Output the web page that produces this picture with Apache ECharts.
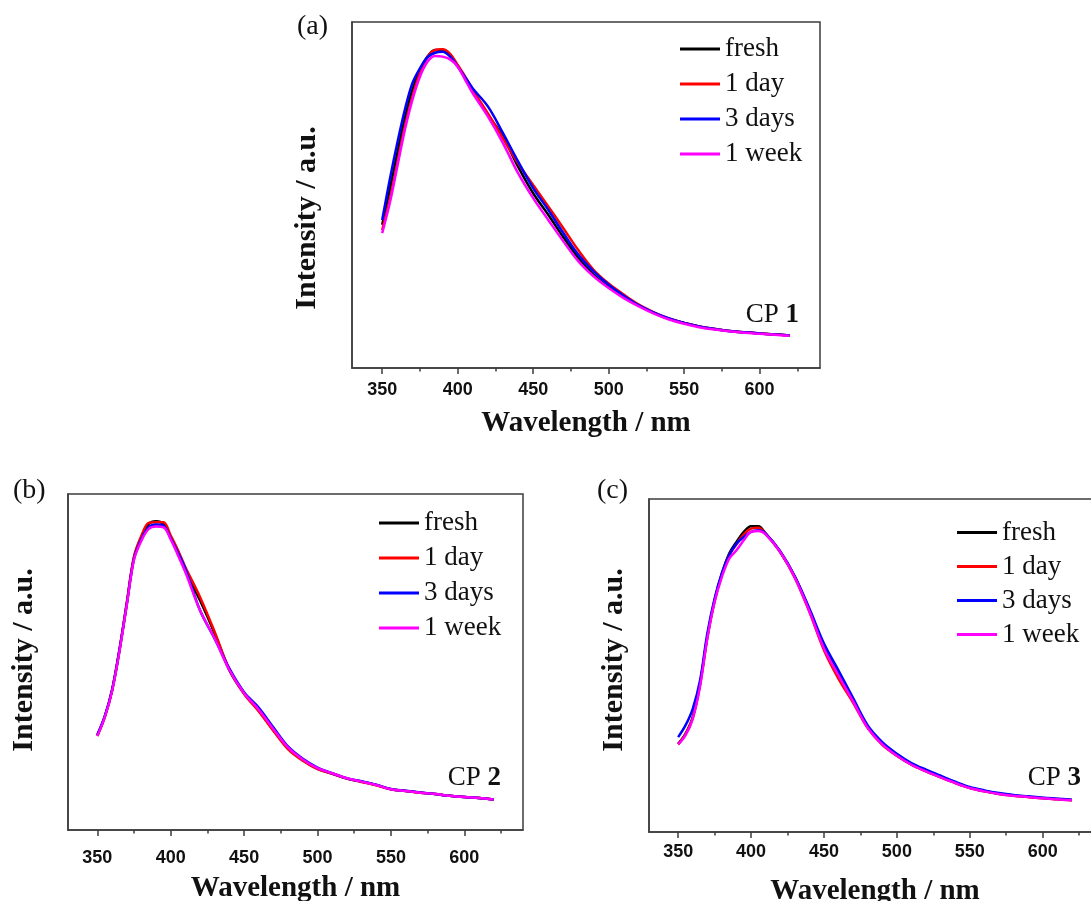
<!DOCTYPE html>
<html>
<head>
<meta charset="utf-8">
<script src="https://cdn.jsdelivr.net/npm/echarts@6/dist/echarts.min.js"></script>
<style>
html,body{margin:0;padding:0;background:#ffffff;}
#chart{width:1091px;height:901px;}
</style>
</head>
<body>
<div id="chart"></div>
<script>
// ---------------- data ----------------
const wavelengths = [350,355,360,365,370,375,380,385,390,395,400,405,410,420,430,440,450,460,470,480,490,500,510,520,530,540,550,560,570,580,590,600,610,620];
const seriesNames = ['fresh', '1 day', '3 days', '1 week'];
const xTickValues = [350, 400, 450, 500, 550, 600];
const xMinorTickValues = [375, 425, 475, 525, 575, 625];

// CP 1 (panel a)
const cp1Fresh = [41.4,51.5,62.1,72.2,80.4,86.1,90.0,91.9,91.9,90.5,87.3,83.7,79.9,73.2,66.9,58.2,50.5,44.3,37.8,31.8,27.0,23.4,20.7,18.0,15.9,14.2,13.0,12.0,11.3,10.7,10.3,10.0,9.7,9.4];
const cp1Day1  = [39.9,48.6,59.2,69.8,78.4,85.2,89.8,91.9,92.1,90.8,87.6,84.2,80.4,73.6,66.4,59.2,52.9,46.7,40.4,34.0,28.4,24.4,21.2,18.3,16.1,14.3,13.0,12.0,11.3,10.7,10.3,10.0,9.7,9.4];
const cp1Day3  = [42.8,54.4,65.0,74.6,82.3,86.6,89.8,91.1,91.4,90.0,87.1,84.0,80.8,75.6,67.9,59.7,52.0,45.7,39.0,32.7,27.9,24.1,20.9,18.1,16.0,14.3,13.0,12.0,11.3,10.7,10.3,10.0,9.7,9.4];
const cp1Week1 = [39.0,47.6,58.2,68.8,77.5,84.2,88.5,90.2,90.0,89.2,87.1,83.3,79.4,72.7,65.0,56.3,49.1,42.8,36.6,30.8,26.5,23.1,20.2,17.8,15.7,14.0,12.8,11.8,11.1,10.6,10.2,9.9,9.6,9.3];

// CP 2 (panel b)
const cp2Fresh = [28.2,33.7,41.6,53.5,67.3,81.2,87.1,91.1,91.9,91.1,87.1,82.7,77.2,68.3,58.4,47.5,40.6,35.6,29.7,24.3,20.8,18.3,16.8,15.3,14.4,13.4,12.1,11.6,11.1,10.7,10.2,9.8,9.5,9.1];
const cp2Day1  = [28.0,33.5,41.4,53.3,67.5,81.5,87.6,91.4,91.6,91.6,87.6,83.2,78.2,69.3,58.9,47.8,40.5,35.3,29.5,24.0,20.6,18.1,16.7,15.3,14.3,13.3,12.1,11.6,11.1,10.7,10.2,9.8,9.5,9.1];
const cp2Day3  = [28.4,33.8,41.6,53.4,67.0,80.8,86.6,90.1,90.9,90.6,86.8,82.4,77.7,65.3,56.9,48.0,41.0,36.4,30.5,24.8,21.2,18.6,16.9,15.4,14.5,13.5,12.2,11.7,11.2,10.7,10.2,9.8,9.5,9.1];
const cp2Week1 = [28.0,33.5,41.3,53.0,66.8,80.5,86.1,89.6,90.3,90.1,86.5,81.7,76.7,65.3,56.9,47.6,40.7,35.8,30.0,24.5,21.0,18.4,16.9,15.4,14.4,13.4,12.1,11.6,11.1,10.7,10.2,9.8,9.5,9.1];

// CP 3 (panel c)
const cp3Fresh = [26.5,29.5,34.5,44.5,58.6,69.6,77.6,83.6,87.1,90.1,91.8,91.8,89.6,84.1,76.6,66.6,55.6,47.5,39.5,31.5,26.5,23.0,20.3,18.3,16.5,14.8,13.3,12.3,11.5,11.0,10.6,10.2,9.9,9.6];
const cp3Day1  = [26.3,29.3,34.3,44.3,58.4,69.4,77.3,83.1,86.4,89.4,91.1,91.4,89.6,84.1,76.4,66.1,54.6,46.0,38.8,31.2,26.2,22.9,20.2,18.2,16.4,14.7,13.2,12.2,11.4,10.9,10.5,10.1,9.8,9.5];
const cp3Day3  = [28.5,32.0,37.0,45.5,59.6,70.1,77.8,83.1,86.6,88.6,90.1,90.6,89.6,84.3,76.8,67.1,56.6,48.5,40.2,32.0,27.0,23.5,20.7,18.7,16.9,15.1,13.5,12.5,11.7,11.1,10.7,10.3,10.0,9.7];
const cp3Week1 = [26.3,29.0,34.0,43.7,58.1,69.1,76.6,82.1,84.6,87.6,90.1,90.4,89.4,84.1,76.4,66.3,55.1,47.0,39.2,31.3,26.3,22.9,20.2,18.2,16.4,14.7,13.2,12.2,11.4,10.9,10.5,10.1,9.8,9.5];

const panelLetters = ['(a)', '(b)', '(c)'];
const cpNumbers = ['1', '2', '3'];

// ---------------- styling / layout ----------------
const lineColors = ['#000000', '#ff0000', '#0000ff', '#ff00ff'];
const axisColor = '#3c3c3c';
const textColor = '#111111';
const xMin = 330, xMax = 640;

const panels = [
  { values: [cp1Fresh, cp1Day1, cp1Day3, cp1Week1],
    grid: {left: 352, top: 22, width: 468, height: 346},
    labelMargin: 13, nameGap: 41,
    legend: {left: 680, top: 35.5, itemGap: 8},
    letter: {x: 297, y: 27}, cp: {x: 799, y: 315}, ytitle: {x: 307, y: 218} },
  { values: [cp2Fresh, cp2Day1, cp2Day3, cp2Week1],
    grid: {left: 68, top: 494, width: 455, height: 336},
    labelMargin: 19, nameGap: 44,
    legend: {left: 379, top: 509.5, itemGap: 8},
    letter: {x: 13, y: 491}, cp: {x: 501, y: 778}, ytitle: {x: 24, y: 660} },
  { values: [cp3Fresh, cp3Day1, cp3Day3, cp3Week1],
    grid: {left: 649, top: 499, width: 452, height: 333},
    labelMargin: 11, nameGap: 45,
    legend: {left: 957, top: 519, itemGap: 7},
    letter: {x: 597, y: 491}, cp: {x: 1081, y: 778}, ytitle: {x: 614, y: 660} }
];

const grids = [], xAxes = [], yAxes = [], series = [], legends = [], graphics = [];

panels.forEach((p, pi) => {
  grids.push(Object.assign({show: true, borderColor: axisColor, borderWidth: 1.5,
    backgroundColor: 'transparent', containLabel: false, outerBoundsMode: 'none'}, p.grid));

  xAxes.push({
    gridIndex: pi, type: 'value', min: xMin, max: xMax, position: 'bottom',
    axisLine: {show: true, onZero: false, lineStyle: {color: axisColor, width: 1.5}},
    axisTick: {show: true, inside: false, length: 6, customValues: xTickValues, lineStyle: {color: axisColor, width: 1.5}},
    axisLabel: {show: true, customValues: xTickValues, margin: p.labelMargin,
      fontFamily: 'Liberation Sans', fontWeight: 'bold', fontSize: 18, color: textColor},
    splitLine: {show: false},
    name: 'Wavelength / nm', nameLocation: 'middle', nameGap: p.nameGap,
    nameTextStyle: {fontFamily: 'Liberation Serif', fontWeight: 'bold', fontSize: 29, color: textColor}
  });
  xAxes.push({
    gridIndex: pi, type: 'value', min: xMin, max: xMax, position: 'bottom',
    axisLine: {show: false},
    axisTick: {show: true, inside: false, length: 3.5, customValues: xMinorTickValues, lineStyle: {color: axisColor, width: 1.5}},
    axisLabel: {show: false},
    splitLine: {show: false}
  });
  yAxes.push({
    gridIndex: pi, type: 'value', min: 0, max: 100,
    axisLine: {show: true, onZero: false, lineStyle: {color: axisColor, width: 1.5}},
    axisTick: {show: false}, axisLabel: {show: false}, splitLine: {show: false}
  });

  p.values.forEach((vals, si) => {
    series.push({
      type: 'line', name: seriesNames[si],
      xAxisIndex: pi * 2, yAxisIndex: pi,
      data: wavelengths.map((w, i) => [w, vals[i]]),
      symbol: 'none', showSymbol: false, smooth: 0.35,
      lineStyle: {color: lineColors[si], width: 2.5},
      itemStyle: {color: lineColors[si]},
      silent: true, animation: false, z: 2 + si
    });
  });

  legends.push({
    orient: 'vertical', left: p.legend.left, top: p.legend.top, padding: 0,
    icon: 'rect', itemWidth: 40, itemHeight: 3, itemGap: p.legend.itemGap,
    selectedMode: false, data: seriesNames,
    textStyle: {fontFamily: 'Liberation Serif', fontSize: 27, color: textColor}
  });

  graphics.push({
    type: 'text', x: p.letter.x, y: p.letter.y,
    style: {text: panelLetters[pi], font: '28px "Liberation Serif"', fill: textColor,
      align: 'left', textAlign: 'left', verticalAlign: 'middle', textVerticalAlign: 'middle'}
  });
  graphics.push({
    type: 'text', x: p.cp.x, y: p.cp.y,
    style: {text: '{n|CP }{b|' + cpNumbers[pi] + '}', fill: textColor,
      align: 'right', textAlign: 'right', verticalAlign: 'middle', textVerticalAlign: 'middle',
      rich: {
        n: {fontFamily: 'Liberation Serif', fontSize: 27, fill: textColor, color: textColor},
        b: {fontFamily: 'Liberation Serif', fontSize: 27, fontWeight: 'bold', fill: textColor, color: textColor}
      }}
  });
  graphics.push({
    type: 'text', x: p.ytitle.x, y: p.ytitle.y, rotation: Math.PI / 2,
    style: {text: 'Intensity / a.u.', font: 'bold 30px "Liberation Serif"', fill: textColor,
      align: 'center', textAlign: 'center', verticalAlign: 'middle', textVerticalAlign: 'middle'}
  });
});

const chart = echarts.init(document.getElementById('chart'), null, {renderer: 'canvas'});
chart.setOption({
  backgroundColor: '#ffffff',
  animation: false,
  grid: grids,
  xAxis: xAxes,
  yAxis: yAxes,
  legend: legends,
  series: series,
  graphic: graphics
});
</script>
</body>
</html>
